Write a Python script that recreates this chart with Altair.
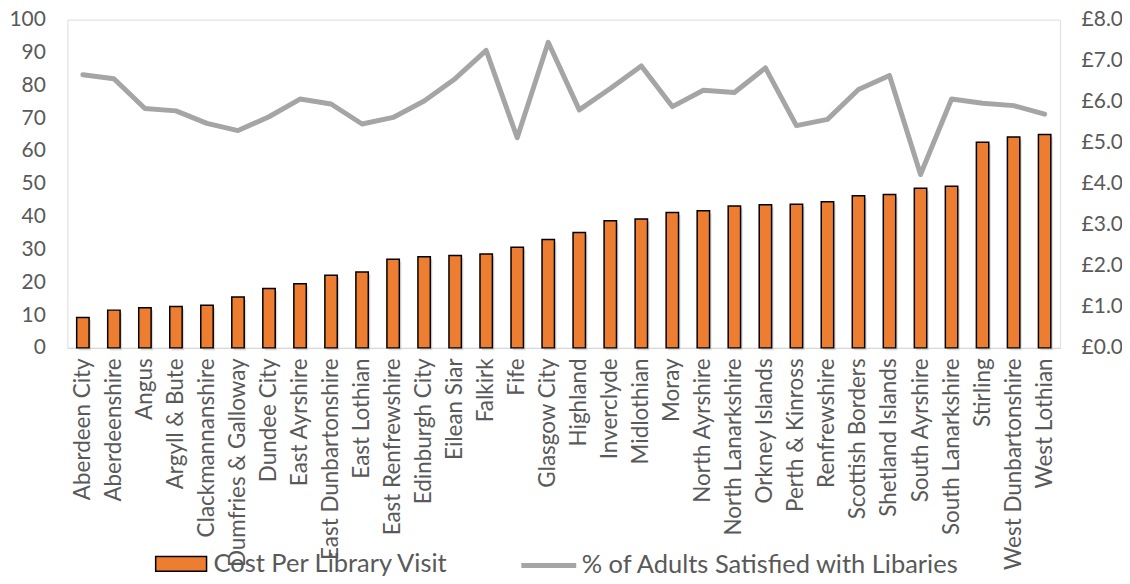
import altair as alt
import pandas as pd

councils = [
    "Aberdeen City", "Aberdeenshire", "Angus", "Argyll & Bute", "Clackmannanshire",
    "Dumfries & Galloway", "Dundee City", "East Ayrshire", "East Dunbartonshire",
    "East Lothian", "East Renfrewshire", "Edinburgh City", "Eilean Siar", "Falkirk",
    "Fife", "Glasgow City", "Highland", "Inverclyde", "Midlothian", "Moray",
    "North Ayrshire", "North Lanarkshire", "Orkney Islands", "Perth & Kinross",
    "Renfrewshire", "Scottish Borders", "Shetland Islands", "South Ayrshire",
    "South Lanarkshire", "Stirling", "West Dunbartonshire", "West Lothian",
]
cost_per_visit = [
    0.74, 0.92, 0.98, 1.01, 1.04, 1.24, 1.45, 1.56, 1.77, 1.85, 2.16, 2.22,
    2.25, 2.29, 2.45, 2.64, 2.81, 3.10, 3.14, 3.30, 3.34, 3.46, 3.49, 3.50,
    3.56, 3.71, 3.74, 3.89, 3.94, 5.01, 5.14, 5.20,
]
pct_satisfied = [
    83.2, 82.0, 72.9, 72.2, 68.4, 66.2, 70.4, 75.8, 74.3, 68.2, 70.2, 75.2,
    82.0, 90.6, 64.0, 93.1, 72.5, 79.0, 85.9, 73.5, 78.5, 77.8, 85.3, 67.7,
    69.6, 78.7, 83.0, 52.8, 75.8, 74.5, 73.8, 71.2,
]
left_ticks = [0, 10, 20, 30, 40, 50, 60, 70, 80, 90, 100]
right_ticks = [0, 1, 2, 3, 4, 5, 6, 7, 8]

bar_name = "Cost Per Library Visit"
line_name = "% of Adults Satisfied with Libaries"

df = pd.DataFrame({"council": councils, "cost": cost_per_visit, "pct": pct_satisfied})

FONT = "Lato"
TXT = "#595959"

x_enc = alt.X(
    "council:N", sort=councils, title=None,
    scale=alt.Scale(paddingInner=0.6, paddingOuter=0.3),
    axis=alt.Axis(labelAngle=-90, labelFontSize=22.5, labelColor=TXT, labelFont=FONT,
                  domainColor="#d9d9d9", domainWidth=1.5, ticks=False,
                  labelPadding=10, labelOverlap=False, labelLimit=400),
)

right_axis = alt.Axis(orient="right", values=right_ticks, labelExpr="'£' + format(datum.value, '.1f')",
                      labelFontSize=21, labelColor=TXT, labelFont=FONT, domain=False,
                      ticks=False, grid=False, labelPadding=21, title=None)
y_cost = alt.Y("cost:Q", scale=alt.Scale(domain=[0, 8], nice=False), axis=right_axis, title=None)

shadow = alt.Chart(df).mark_bar(color="#bdbdbd", opacity=0.55, xOffset=2, yOffset=2.5, y2Offset=2.5).encode(
    x=x_enc, y=y_cost,
)

bars = alt.Chart(df).mark_bar(stroke="black", strokeWidth=1.5).encode(
    x=x_enc, y=y_cost,
    fill=alt.Fill(
        "b:N", title=None,
        scale=alt.Scale(domain=[bar_name], range=["#ed7d31"]),
        legend=alt.Legend(orient="none", legendX=87.5, legendY=519, direction="horizontal",
                          symbolType="M-1,-0.294H1V0.294H-1Z", symbolSize=2601,
                          symbolStrokeColor="black", symbolStrokeWidth=1.5,
                          symbolFillColor="#ed7d31", symbolOpacity=1,
                          labelFontSize=25.5, labelColor=TXT, labelFont=FONT, labelOffset=6,
                          labelLimit=500, padding=0),
    ),
).transform_calculate(b=f"'{bar_name}'")

line = alt.Chart(df).mark_line(color="#a5a5a5", strokeWidth=5, strokeCap="round", strokeJoin="round").encode(
    x=x_enc,
    y=alt.Y("pct:Q", scale=alt.Scale(domain=[0, 100], nice=False), title=None,
            axis=alt.Axis(orient="left", values=left_ticks, labelFontSize=21, labelColor=TXT,
                          labelFont=FONT, domain=False, ticks=False, grid=False,
                          labelPadding=22, title=None)),
    stroke=alt.Stroke(
        "l:N", title=None,
        scale=alt.Scale(domain=[line_name], range=["#a5a5a5"]),
        legend=alt.Legend(orient="none", legendX=452.5, legendY=517, direction="horizontal",
                          symbolType="stroke", symbolSize=3025, symbolStrokeWidth=5,
                          labelFontSize=25.5, labelColor=TXT, labelFont=FONT, labelOffset=3,
                          labelLimit=600, padding=0),
    ),
).transform_calculate(l=f"'{line_name}'")

bar_layer = alt.layer(shadow, bars)

chart = alt.layer(bar_layer, line).resolve_scale(
    y="independent", fill="independent", stroke="independent"
).properties(
    width=995, height=329,
    autosize=alt.AutoSizeParams(type="none"),
    padding={"left": 59.5, "top": 11, "right": 62, "bottom": 228},
).configure_view(stroke=None).configure(font=FONT)

chart.save("out.html", embed_options={"renderer": "svg", "actions": False})
